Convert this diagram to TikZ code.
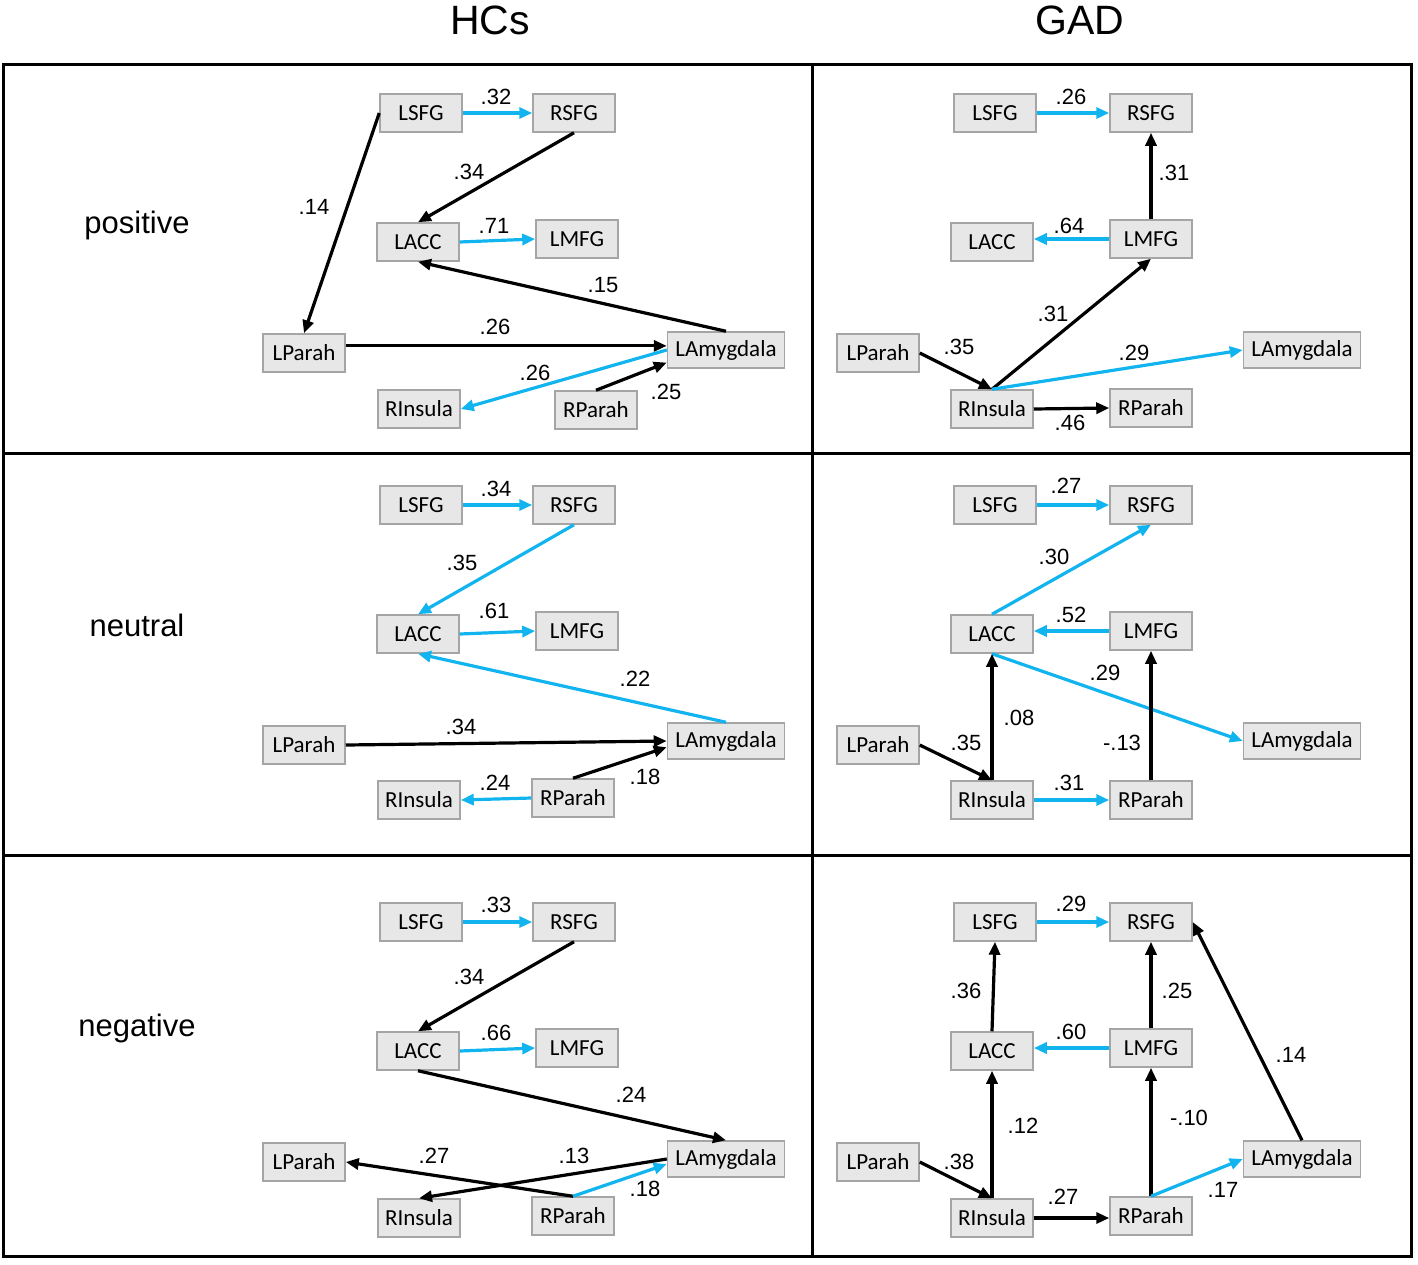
\documentclass[tikz,border=0pt]{standalone}
\usepackage{fontspec}
\setmainfont{Liberation Sans}
\newfontfamily\calib{Carlito}
\usetikzlibrary{arrows.meta}
\definecolor{linkblue}{RGB}{18,180,240}
\definecolor{boxfill}{RGB}{231,231,231}
\definecolor{boxline}{RGB}{165,165,165}
\begin{document}
\begin{tikzpicture}[x=1pt,y=-1pt,
  region/.style={draw=boxline,fill=boxfill,line width=1.5pt,minimum width=82pt,minimum height=38pt,inner sep=0pt,font=\calib\fontsize{23}{25}\selectfont},
  amyg/.style={region,minimum width=117pt,minimum height=36pt},
  coef/.style={inner sep=0pt,font=\fontsize{22}{24}\selectfont},
  bluearc/.style={draw=linkblue,line width=3.2pt,-{Triangle[length=13pt,width=11pt]}},
  blackarc/.style={draw=black,line width=3.2pt,-{Triangle[length=13pt,width=11pt]}}]
\path[use as bounding box] (0,0) rectangle (1418,1264);
% frame
\draw[line width=3pt] (3,64) rectangle (1411,1256);
\draw[line width=3pt] (812,64) -- (812,1256);
\draw[line width=3pt] (3,453) -- (1411,453);
\draw[line width=3pt] (3,855) -- (1411,855);
\node[inner sep=0pt,font=\fontsize{41}{44}\selectfont] (colhc) at (490,20) {HCs};
\node[inner sep=0pt,font=\fontsize{41}{44}\selectfont] (colgad) at (1080,20) {GAD};
\node[inner sep=0pt,font=\fontsize{31}{34}\selectfont] (rowpos) at (137,225) {positive};
\node[inner sep=0pt,font=\fontsize{31}{34}\selectfont] (rowneu) at (137,625) {neutral};
\node[inner sep=0pt,font=\fontsize{31}{34}\selectfont] (rowneg) at (137,1028) {negative};
% HCs, positive
\node[region] (hposLSFG) at (421,113) {LSFG};
\node[region] (hposRSFG) at (574,113) {RSFG};
\node[region] (hposLACC) at (418,242) {LACC};
\node[region] (hposLMFG) at (577,239) {LMFG};
\node[region] (hposLParah) at (304,353) {LParah};
\node[amyg] (hposLAmyg) at (726,350) {LAmygdala};
\node[region] (hposRIns) at (419,409) {RInsula};
\node[region] (hposRParah) at (596,410) {RParah};
\draw[bluearc] (hposLSFG.east) -- (hposRSFG.west);
\draw[blackarc] (hposLSFG.west) -- (hposLParah.north);
\draw[blackarc] (hposRSFG.south) -- (hposLACC.north);
\draw[bluearc] (hposLACC.east) -- (hposLMFG.west);
\draw[blackarc] (hposLAmyg.north) -- (hposLACC.south);
\draw[blackarc] (hposLParah.east |- hposLAmyg.176) -- (hposLAmyg.176);
\draw[bluearc] (hposLAmyg.west) -- (hposRIns.east);
\draw[blackarc] (hposRParah.north) -- (hposLAmyg.192);
\node[coef] at (496,97) {.32};
\node[coef] at (469,172) {.34};
\node[coef] at (314,207) {.14};
\node[coef] at (494,226) {.71};
\node[coef] at (603,285) {.15};
\node[coef] at (495,327) {.26};
\node[coef] at (535,373) {.26};
\node[coef] at (666,392) {.25};
% GAD, positive
\node[region] (gposLSFG) at (995,113) {LSFG};
\node[region] (gposRSFG) at (1151,113) {RSFG};
\node[region] (gposLACC) at (992,242) {LACC};
\node[region] (gposLMFG) at (1151,239) {LMFG};
\node[region] (gposLParah) at (878,353) {LParah};
\node[amyg] (gposLAmyg) at (1302,350) {LAmygdala};
\node[region] (gposRIns) at (992,409) {RInsula};
\node[region] (gposRParah) at (1151,408) {RParah};
\draw[bluearc] (gposLSFG.east) -- (gposRSFG.west);
\draw[blackarc] (gposLMFG.north) -- (gposRSFG.south);
\draw[bluearc] (gposLMFG.west) -- (gposLACC.east |- gposLMFG.west);
\draw[blackarc] (gposRIns.north) -- (gposLMFG.south);
\draw[blackarc] (gposLParah.east) -- (gposRIns.north);
\draw[bluearc] (gposRIns.north) -- (gposLAmyg.west);
\draw[blackarc] (gposRIns.east) -- (gposRParah.west);
\node[coef] at (1071,97) {.26};
\node[coef] at (1174,173) {.31};
\node[coef] at (1069,226) {.64};
\node[coef] at (1053,314) {.31};
\node[coef] at (959,347) {.35};
\node[coef] at (1134,353) {.29};
\node[coef] at (1070,423) {.46};
% HCs, neutral
\node[region] (hneuLSFG) at (421,505) {LSFG};
\node[region] (hneuRSFG) at (574,505) {RSFG};
\node[region] (hneuLACC) at (418,634) {LACC};
\node[region] (hneuLMFG) at (577,631) {LMFG};
\node[region] (hneuLParah) at (304,745) {LParah};
\node[amyg] (hneuLAmyg) at (726,741) {LAmygdala};
\node[region] (hneuRIns) at (419,800) {RInsula};
\node[region] (hneuRParah) at (573,798) {RParah};
\draw[bluearc] (hneuLSFG.east) -- (hneuRSFG.west);
\draw[bluearc] (hneuRSFG.south) -- (hneuLACC.north);
\draw[bluearc] (hneuLACC.east) -- (hneuLMFG.west);
\draw[bluearc] (hneuLAmyg.north) -- (hneuLACC.south);
\draw[blackarc] (hneuLParah.east) -- (hneuLAmyg.west);
\draw[blackarc] (hneuRParah.north) -- (hneuLAmyg.186);
\draw[bluearc] (hneuRParah.west) -- (hneuRIns.east);
\node[coef] at (496,489) {.34};
\node[coef] at (462,563) {.35};
\node[coef] at (494,611) {.61};
\node[coef] at (635,679) {.22};
\node[coef] at (461,727) {.34};
\node[coef] at (495,783) {.24};
\node[coef] at (645,777) {.18};
% GAD, neutral
\node[region] (gneuLSFG) at (995,505) {LSFG};
\node[region] (gneuRSFG) at (1151,505) {RSFG};
\node[region] (gneuLACC) at (992,634) {LACC};
\node[region] (gneuLMFG) at (1151,631) {LMFG};
\node[region] (gneuLParah) at (878,745) {LParah};
\node[amyg] (gneuLAmyg) at (1302,741) {LAmygdala};
\node[region] (gneuRIns) at (992,800) {RInsula};
\node[region] (gneuRParah) at (1151,800) {RParah};
\draw[bluearc] (gneuLSFG.east) -- (gneuRSFG.west);
\draw[bluearc] (gneuLACC.north) -- (gneuRSFG.south);
\draw[bluearc] (gneuLMFG.west) -- (gneuLACC.east |- gneuLMFG.west);
\draw[bluearc] (gneuLACC.south) -- (gneuLAmyg.west);
\draw[blackarc] (gneuRIns.north) -- (gneuLACC.south);
\draw[blackarc] (gneuLParah.east) -- (gneuRIns.north);
\draw[bluearc] (gneuRIns.east) -- (gneuRParah.west);
\draw[blackarc] (gneuRParah.north) -- (gneuLMFG.south);
\node[coef] at (1066,486) {.27};
\node[coef] at (1054,557) {.30};
\node[coef] at (1071,615) {.52};
\node[coef] at (1105,673) {.29};
\node[coef] at (1019,718) {.08};
\node[coef] at (966,743) {.35};
\node[coef] at (1122,743) {-.13};
\node[coef] at (1069,783) {.31};
% HCs, negative
\node[region] (hnegLSFG) at (421,922) {LSFG};
\node[region] (hnegRSFG) at (574,922) {RSFG};
\node[region] (hnegLACC) at (418,1051) {LACC};
\node[region] (hnegLMFG) at (577,1048) {LMFG};
\node[region] (hnegLParah) at (304,1162) {LParah};
\node[amyg] (hnegLAmyg) at (726,1159) {LAmygdala};
\node[region] (hnegRIns) at (419,1218) {RInsula};
\node[region] (hnegRParah) at (573,1216) {RParah};
\draw[bluearc] (hnegLSFG.east) -- (hnegRSFG.west);
\draw[blackarc] (hnegRSFG.south) -- (hnegLACC.north);
\draw[bluearc] (hnegLACC.east) -- (hnegLMFG.west);
\draw[blackarc] (hnegLACC.south) -- (hnegLAmyg.north);
\draw[blackarc] (hnegRParah.north) -- (hnegLParah.east);
\draw[blackarc] (hnegLAmyg.west) -- (hnegRIns.north);
\draw[bluearc] (hnegRParah.north) -- (hnegLAmyg.185);
\node[coef] at (496,905) {.33};
\node[coef] at (469,977) {.34};
\node[coef] at (496,1033) {.66};
\node[coef] at (631,1095) {.24};
\node[coef] at (434,1156) {.27};
\node[coef] at (574,1156) {.13};
\node[coef] at (645,1189) {.18};
% GAD, negative
\node[region] (gnegLSFG) at (995,922) {LSFG};
\node[region] (gnegRSFG) at (1151,922) {RSFG};
\node[region] (gnegLACC) at (992,1051) {LACC};
\node[region] (gnegLMFG) at (1151,1048) {LMFG};
\node[region] (gnegLParah) at (878,1162) {LParah};
\node[amyg] (gnegLAmyg) at (1302,1159) {LAmygdala};
\node[region] (gnegRIns) at (992,1218) {RInsula};
\node[region] (gnegRParah) at (1151,1216) {RParah};
\draw[bluearc] (gnegLSFG.east) -- (gnegRSFG.west);
\draw[blackarc] (gnegLACC.north) -- (gnegLSFG.south);
\draw[blackarc] (gnegLMFG.north) -- (gnegRSFG.south);
\draw[bluearc] (gnegLMFG.west) -- (gnegLACC.east |- gnegLMFG.west);
\draw[blackarc] (gnegLAmyg.north) -- (gnegRSFG.east);
\draw[blackarc] (gnegRIns.north) -- (gnegLACC.south);
\draw[blackarc] (gnegRParah.north) -- (gnegLMFG.south);
\draw[blackarc] (gnegLParah.east) -- (gnegRIns.north);
\draw[blackarc] (gnegRIns.east) -- (gnegRParah.west |- gnegRIns.east);
\draw[bluearc] (gnegRParah.north) -- (gnegLAmyg.west);
\node[coef] at (1071,904) {.29};
\node[coef] at (966,991) {.36};
\node[coef] at (1177,991) {.25};
\node[coef] at (1071,1032) {.60};
\node[coef] at (1291,1055) {.14};
\node[coef] at (1023,1126) {.12};
\node[coef] at (1189,1118) {-.10};
\node[coef] at (959,1162) {.38};
\node[coef] at (1063,1197) {.27};
\node[coef] at (1223,1190) {.17};
\end{tikzpicture}
\end{document}
